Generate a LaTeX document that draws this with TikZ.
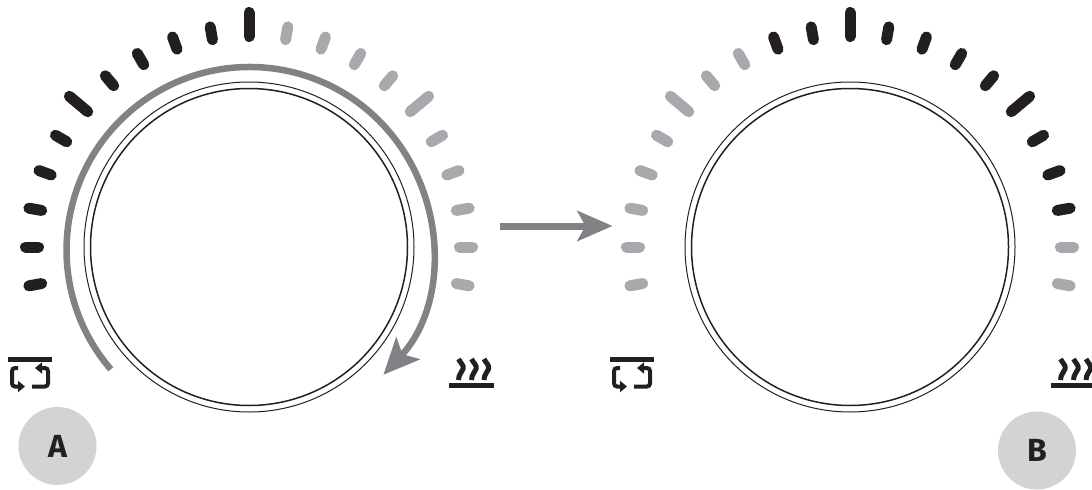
\documentclass[tikz,border=0pt]{standalone}
\usepackage{fontspec}
\setsansfont{Fira Sans}
\usetikzlibrary{arrows.meta}
\definecolor{inkdark}{HTML}{231F20}
\definecolor{tickgrey}{HTML}{A7A9AC}
\definecolor{flowgrey}{HTML}{808285}
\definecolor{badgegrey}{HTML}{D1D3D4}
\tikzset{
  dial/.style={circle, draw=inkdark, fill=white, inner sep=0pt, outer sep=0pt},
  tick/.style={line width=5.5pt, line cap=round},
  badge/.style={circle, fill=badgegrey, text=inkdark, inner sep=0pt, minimum size=39pt,
                font=\sffamily\bfseries\fontsize{16}{18}\selectfont},
  turn/.style={-{Stealth[length=18pt, width=16pt, inset=4pt]}, line width=3.25pt, flowgrey},
  icon/.style={inkdark, line width=2pt, rounded corners=1.5pt},
  wave/.style={inkdark, line width=2.5pt},
}

\begin{document}
\begin{tikzpicture}[x=0.5pt, y=0.5pt]
    \clip (0,0) rectangle (1092,489);
    % dials with their scales
    \foreach \n/\cx/\first/\last in {A/249/-100/0, B/850/-20/80}
      { \node[dial, line width=0.5pt, minimum size=165pt] (outer\n) at (\cx,242) {};
        \node[dial, line width=0.75pt, minimum size=158.5pt] (inner\n) at (\cx,242) {};
        \foreach \a in {-100,-90,...,100}
          { \pgfmathtruncatemacro{\isdark}{(\a>=\first && \a<=\last) ? 1 : 0}
            \pgfmathsetmacro{\rend}{(\a==0 || abs(\a)==50) ? 234.5 : 223.5}
            \ifnum\isdark=1 \def\tc{inkdark}\else \def\tc{tickgrey}\fi
            \draw[tick, \tc, shift={(\cx,242)}] (90-\a:210.5) -- (90-\a:\rend); } }
    % turning arrow on dial A
    \coordinate (turnstart) at (110.8,119.7);
    \draw[turn] (turnstart) arc[start angle=220.7, end angle=-43, radius=183];
    % arrow between the dials
    \coordinate (flowstart) at (500,263);
    \coordinate (flowend) at (612.5,263);
    \draw[-{Stealth[length=17.5pt, width=15pt, inset=4pt]}, line width=3.5pt, flowgrey] (flowstart) -- (flowend);
    % icons below the scales
    \foreach \dx in {0,602}
      { \begin{scope}[shift={(\dx,0)}]
          \fill[inkdark] (8,127) rectangle (52,132);
          \draw[icon, -{Stealth[length=3.5pt, width=5.5pt, inset=0pt]}] (18,121) -- (12,121) -- (12,102.5) -- (25,102.5);
          \draw[icon, -{Stealth[length=3.5pt, width=5.5pt, inset=0pt]}] (32,102.5) -- (48,102.5) -- (48,121) -- (35,121);
          \fill[inkdark] (449,101) rectangle (494,106);
          \foreach \wx in {458.5,471.5,484}
            { \draw[wave, shift={(\wx,0)}] (0,130) .. controls (2,126) and (5.5,124) .. (4.5,120) .. controls (3.5,116) and (0,115) .. (0,109); }
        \end{scope} }
    % badges
    \node[badge] (badgeA) at (57.5,43) {A};
    \node[badge] (badgeB) at (1037,38.5) {B};
  \end{tikzpicture}
\end{document}
